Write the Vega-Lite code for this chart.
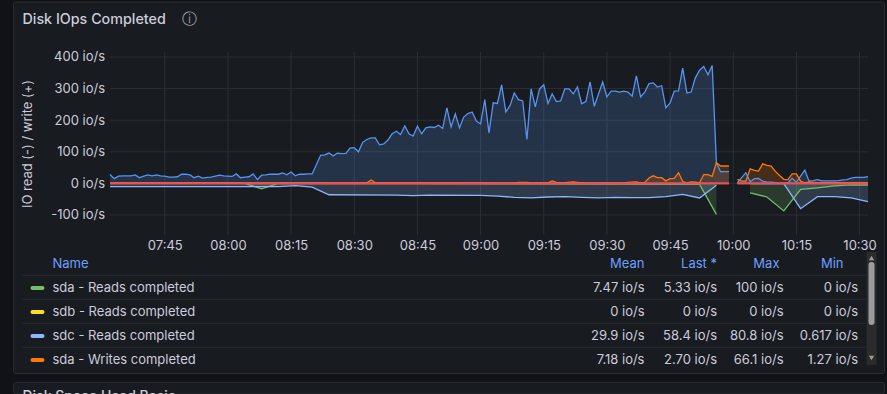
{"$schema":"https://vega.github.io/schema/vega-lite/v6.json","background":"#111217","padding":0,"config":{"font":"Inter","view":{"stroke":null},"axis":{"labelOverlap":false},"axisY":{"labelOverlap":false},"title":{"font":"Inter","fontWeight":500,"fontSize":14.3,"color":"#ccccdc"}},"spacing":17,"bounds":"flush","datasets":{"series":[
{"t":"2024-01-01T07:32Z","s":"sda - Reads completed","v":0},{"t":"2024-01-01T08:04Z","s":"sda - Reads completed","v":0},{"t":"2024-01-01T08:08Z","s":"sda - Reads completed","v":-17},{"t":"2024-01-01T08:12Z","s":"sda - Reads completed","v":0},{"t":"2024-01-01T09:52Z","s":"sda - Reads completed","v":-3},{"t":"2024-01-01T09:56Z","s":"sda - Reads completed","v":-98},{"t":"2024-01-01T09:57Z","s":"sda - Reads completed","v":null},{"t":"2024-01-01T10:04Z","s":"sda - Reads completed","v":-30},{"t":"2024-01-01T10:08Z","s":"sda - Reads completed","v":-43},{"t":"2024-01-01T10:12Z","s":"sda - Reads completed","v":-87},{"t":"2024-01-01T10:16Z","s":"sda - Reads completed","v":-19},{"t":"2024-01-01T10:20Z","s":"sda - Reads completed","v":-14},{"t":"2024-01-01T10:24Z","s":"sda - Reads completed","v":-8},{"t":"2024-01-01T10:28Z","s":"sda - Reads completed","v":-5},{"t":"2024-01-01T10:32Z","s":"sda - Reads completed","v":-5},
{"t":"2024-01-01T07:32Z","s":"sdb - Reads completed","v":0},{"t":"2024-01-01T09:59Z","s":"sdb - Reads completed","v":0},{"t":"2024-01-01T10:00Z","s":"sdb - Reads completed","v":null},{"t":"2024-01-01T10:01Z","s":"sdb - Reads completed","v":0},{"t":"2024-01-01T10:32Z","s":"sdb - Reads completed","v":0},
{"t":"2024-01-01T07:32Z","s":"sdc - Reads completed","v":-10},{"t":"2024-01-01T08:12Z","s":"sdc - Reads completed","v":-10},{"t":"2024-01-01T08:16Z","s":"sdc - Reads completed","v":-7},{"t":"2024-01-01T08:20Z","s":"sdc - Reads completed","v":-12},{"t":"2024-01-01T08:24Z","s":"sdc - Reads completed","v":-36},{"t":"2024-01-01T08:40Z","s":"sdc - Reads completed","v":-37},{"t":"2024-01-01T08:44Z","s":"sdc - Reads completed","v":-39},{"t":"2024-01-01T08:48Z","s":"sdc - Reads completed","v":-37},{"t":"2024-01-01T09:00Z","s":"sdc - Reads completed","v":-38},{"t":"2024-01-01T09:04Z","s":"sdc - Reads completed","v":-40},{"t":"2024-01-01T09:08Z","s":"sdc - Reads completed","v":-44},{"t":"2024-01-01T09:12Z","s":"sdc - Reads completed","v":-46},{"t":"2024-01-01T09:16Z","s":"sdc - Reads completed","v":-43},{"t":"2024-01-01T09:20Z","s":"sdc - Reads completed","v":-42},{"t":"2024-01-01T09:24Z","s":"sdc - Reads completed","v":-44},{"t":"2024-01-01T09:28Z","s":"sdc - Reads completed","v":-46},{"t":"2024-01-01T09:32Z","s":"sdc - Reads completed","v":-44},{"t":"2024-01-01T09:36Z","s":"sdc - Reads completed","v":-45},{"t":"2024-01-01T09:40Z","s":"sdc - Reads completed","v":-45},{"t":"2024-01-01T09:44Z","s":"sdc - Reads completed","v":-42},{"t":"2024-01-01T09:48Z","s":"sdc - Reads completed","v":-35},{"t":"2024-01-01T09:52Z","s":"sdc - Reads completed","v":-46},{"t":"2024-01-01T09:56Z","s":"sdc - Reads completed","v":-6},{"t":"2024-01-01T09:57Z","s":"sdc - Reads completed","v":null},{"t":"2024-01-01T10:04Z","s":"sdc - Reads completed","v":-1},{"t":"2024-01-01T10:12Z","s":"sdc - Reads completed","v":-1},{"t":"2024-01-01T10:16Z","s":"sdc - Reads completed","v":-80},{"t":"2024-01-01T10:20Z","s":"sdc - Reads completed","v":-42},{"t":"2024-01-01T10:24Z","s":"sdc - Reads completed","v":-42},{"t":"2024-01-01T10:28Z","s":"sdc - Reads completed","v":-46},{"t":"2024-01-01T10:32Z","s":"sdc - Reads completed","v":-58},
{"t":"2024-01-01T07:32Z","s":"sdc - Writes completed","v":28},{"t":"2024-01-01T07:33Z","s":"sdc - Writes completed","v":15},{"t":"2024-01-01T07:34Z","s":"sdc - Writes completed","v":23},{"t":"2024-01-01T07:35Z","s":"sdc - Writes completed","v":24},{"t":"2024-01-01T07:36Z","s":"sdc - Writes completed","v":24},{"t":"2024-01-01T07:37Z","s":"sdc - Writes completed","v":24},{"t":"2024-01-01T07:38Z","s":"sdc - Writes completed","v":27},{"t":"2024-01-01T07:39Z","s":"sdc - Writes completed","v":18},{"t":"2024-01-01T07:40Z","s":"sdc - Writes completed","v":23},{"t":"2024-01-01T07:41Z","s":"sdc - Writes completed","v":27},{"t":"2024-01-01T07:42Z","s":"sdc - Writes completed","v":24},{"t":"2024-01-01T07:43Z","s":"sdc - Writes completed","v":27},{"t":"2024-01-01T07:44Z","s":"sdc - Writes completed","v":24},{"t":"2024-01-01T07:45Z","s":"sdc - Writes completed","v":23},{"t":"2024-01-01T07:46Z","s":"sdc - Writes completed","v":20},{"t":"2024-01-01T07:47Z","s":"sdc - Writes completed","v":20},{"t":"2024-01-01T07:48Z","s":"sdc - Writes completed","v":21},{"t":"2024-01-01T07:49Z","s":"sdc - Writes completed","v":29},{"t":"2024-01-01T07:50Z","s":"sdc - Writes completed","v":29},{"t":"2024-01-01T07:51Z","s":"sdc - Writes completed","v":27},{"t":"2024-01-01T07:52Z","s":"sdc - Writes completed","v":18},{"t":"2024-01-01T07:53Z","s":"sdc - Writes completed","v":23},{"t":"2024-01-01T07:54Z","s":"sdc - Writes completed","v":17},{"t":"2024-01-01T07:55Z","s":"sdc - Writes completed","v":19},{"t":"2024-01-01T07:56Z","s":"sdc - Writes completed","v":20},{"t":"2024-01-01T07:57Z","s":"sdc - Writes completed","v":23},{"t":"2024-01-01T07:58Z","s":"sdc - Writes completed","v":26},{"t":"2024-01-01T07:59Z","s":"sdc - Writes completed","v":24},{"t":"2024-01-01T08:00Z","s":"sdc - Writes completed","v":23},{"t":"2024-01-01T08:01Z","s":"sdc - Writes completed","v":22},{"t":"2024-01-01T08:02Z","s":"sdc - Writes completed","v":30},{"t":"2024-01-01T08:03Z","s":"sdc - Writes completed","v":18},{"t":"2024-01-01T08:04Z","s":"sdc - Writes completed","v":20},{"t":"2024-01-01T08:05Z","s":"sdc - Writes completed","v":21},{"t":"2024-01-01T08:06Z","s":"sdc - Writes completed","v":30},{"t":"2024-01-01T08:07Z","s":"sdc - Writes completed","v":12},{"t":"2024-01-01T08:08Z","s":"sdc - Writes completed","v":26},{"t":"2024-01-01T08:09Z","s":"sdc - Writes completed","v":27},{"t":"2024-01-01T08:10Z","s":"sdc - Writes completed","v":29},{"t":"2024-01-01T08:11Z","s":"sdc - Writes completed","v":29},{"t":"2024-01-01T08:12Z","s":"sdc - Writes completed","v":29},{"t":"2024-01-01T08:13Z","s":"sdc - Writes completed","v":33},{"t":"2024-01-01T08:14Z","s":"sdc - Writes completed","v":27},{"t":"2024-01-01T08:15Z","s":"sdc - Writes completed","v":36},{"t":"2024-01-01T08:16Z","s":"sdc - Writes completed","v":24},{"t":"2024-01-01T08:17Z","s":"sdc - Writes completed","v":29},{"t":"2024-01-01T08:18Z","s":"sdc - Writes completed","v":29},{"t":"2024-01-01T08:19Z","s":"sdc - Writes completed","v":30},{"t":"2024-01-01T08:20Z","s":"sdc - Writes completed","v":30},{"t":"2024-01-01T08:21Z","s":"sdc - Writes completed","v":59},{"t":"2024-01-01T08:22Z","s":"sdc - Writes completed","v":89},{"t":"2024-01-01T08:23Z","s":"sdc - Writes completed","v":90},{"t":"2024-01-01T08:24Z","s":"sdc - Writes completed","v":96},{"t":"2024-01-01T08:25Z","s":"sdc - Writes completed","v":87},{"t":"2024-01-01T08:26Z","s":"sdc - Writes completed","v":96},{"t":"2024-01-01T08:27Z","s":"sdc - Writes completed","v":94},{"t":"2024-01-01T08:28Z","s":"sdc - Writes completed","v":95},{"t":"2024-01-01T08:29Z","s":"sdc - Writes completed","v":112},{"t":"2024-01-01T08:30Z","s":"sdc - Writes completed","v":113},{"t":"2024-01-01T08:31Z","s":"sdc - Writes completed","v":100},{"t":"2024-01-01T08:32Z","s":"sdc - Writes completed","v":130},{"t":"2024-01-01T08:33Z","s":"sdc - Writes completed","v":139},{"t":"2024-01-01T08:34Z","s":"sdc - Writes completed","v":144},{"t":"2024-01-01T08:35Z","s":"sdc - Writes completed","v":144},{"t":"2024-01-01T08:36Z","s":"sdc - Writes completed","v":122},{"t":"2024-01-01T08:37Z","s":"sdc - Writes completed","v":125},{"t":"2024-01-01T08:38Z","s":"sdc - Writes completed","v":137},{"t":"2024-01-01T08:39Z","s":"sdc - Writes completed","v":157},{"t":"2024-01-01T08:40Z","s":"sdc - Writes completed","v":165},{"t":"2024-01-01T08:41Z","s":"sdc - Writes completed","v":155},{"t":"2024-01-01T08:42Z","s":"sdc - Writes completed","v":182},{"t":"2024-01-01T08:43Z","s":"sdc - Writes completed","v":157},{"t":"2024-01-01T08:44Z","s":"sdc - Writes completed","v":150},{"t":"2024-01-01T08:45Z","s":"sdc - Writes completed","v":181},{"t":"2024-01-01T08:46Z","s":"sdc - Writes completed","v":157},{"t":"2024-01-01T08:47Z","s":"sdc - Writes completed","v":176},{"t":"2024-01-01T08:48Z","s":"sdc - Writes completed","v":179},{"t":"2024-01-01T08:49Z","s":"sdc - Writes completed","v":177},{"t":"2024-01-01T08:50Z","s":"sdc - Writes completed","v":184},{"t":"2024-01-01T08:51Z","s":"sdc - Writes completed","v":174},{"t":"2024-01-01T08:52Z","s":"sdc - Writes completed","v":239},{"t":"2024-01-01T08:53Z","s":"sdc - Writes completed","v":179},{"t":"2024-01-01T08:54Z","s":"sdc - Writes completed","v":220},{"t":"2024-01-01T08:55Z","s":"sdc - Writes completed","v":176},{"t":"2024-01-01T08:56Z","s":"sdc - Writes completed","v":210},{"t":"2024-01-01T08:57Z","s":"sdc - Writes completed","v":221},{"t":"2024-01-01T08:58Z","s":"sdc - Writes completed","v":226},{"t":"2024-01-01T08:59Z","s":"sdc - Writes completed","v":197},{"t":"2024-01-01T09:00Z","s":"sdc - Writes completed","v":188},{"t":"2024-01-01T09:01Z","s":"sdc - Writes completed","v":265},{"t":"2024-01-01T09:02Z","s":"sdc - Writes completed","v":160},{"t":"2024-01-01T09:03Z","s":"sdc - Writes completed","v":255},{"t":"2024-01-01T09:04Z","s":"sdc - Writes completed","v":253},{"t":"2024-01-01T09:05Z","s":"sdc - Writes completed","v":312},{"t":"2024-01-01T09:06Z","s":"sdc - Writes completed","v":226},{"t":"2024-01-01T09:07Z","s":"sdc - Writes completed","v":247},{"t":"2024-01-01T09:08Z","s":"sdc - Writes completed","v":286},{"t":"2024-01-01T09:09Z","s":"sdc - Writes completed","v":265},{"t":"2024-01-01T09:10Z","s":"sdc - Writes completed","v":261},{"t":"2024-01-01T09:11Z","s":"sdc - Writes completed","v":139},{"t":"2024-01-01T09:12Z","s":"sdc - Writes completed","v":299},{"t":"2024-01-01T09:13Z","s":"sdc - Writes completed","v":242},{"t":"2024-01-01T09:14Z","s":"sdc - Writes completed","v":299},{"t":"2024-01-01T09:15Z","s":"sdc - Writes completed","v":312},{"t":"2024-01-01T09:16Z","s":"sdc - Writes completed","v":253},{"t":"2024-01-01T09:17Z","s":"sdc - Writes completed","v":283},{"t":"2024-01-01T09:18Z","s":"sdc - Writes completed","v":259},{"t":"2024-01-01T09:19Z","s":"sdc - Writes completed","v":261},{"t":"2024-01-01T09:20Z","s":"sdc - Writes completed","v":299},{"t":"2024-01-01T09:21Z","s":"sdc - Writes completed","v":299},{"t":"2024-01-01T09:22Z","s":"sdc - Writes completed","v":283},{"t":"2024-01-01T09:23Z","s":"sdc - Writes completed","v":305},{"t":"2024-01-01T09:24Z","s":"sdc - Writes completed","v":252},{"t":"2024-01-01T09:25Z","s":"sdc - Writes completed","v":259},{"t":"2024-01-01T09:26Z","s":"sdc - Writes completed","v":321},{"t":"2024-01-01T09:27Z","s":"sdc - Writes completed","v":244},{"t":"2024-01-01T09:28Z","s":"sdc - Writes completed","v":283},{"t":"2024-01-01T09:29Z","s":"sdc - Writes completed","v":321},{"t":"2024-01-01T09:30Z","s":"sdc - Writes completed","v":274},{"t":"2024-01-01T09:31Z","s":"sdc - Writes completed","v":292},{"t":"2024-01-01T09:32Z","s":"sdc - Writes completed","v":292},{"t":"2024-01-01T09:33Z","s":"sdc - Writes completed","v":289},{"t":"2024-01-01T09:34Z","s":"sdc - Writes completed","v":292},{"t":"2024-01-01T09:35Z","s":"sdc - Writes completed","v":289},{"t":"2024-01-01T09:36Z","s":"sdc - Writes completed","v":276},{"t":"2024-01-01T09:37Z","s":"sdc - Writes completed","v":340},{"t":"2024-01-01T09:38Z","s":"sdc - Writes completed","v":274},{"t":"2024-01-01T09:39Z","s":"sdc - Writes completed","v":289},{"t":"2024-01-01T09:40Z","s":"sdc - Writes completed","v":316},{"t":"2024-01-01T09:41Z","s":"sdc - Writes completed","v":318},{"t":"2024-01-01T09:42Z","s":"sdc - Writes completed","v":305},{"t":"2024-01-01T09:43Z","s":"sdc - Writes completed","v":309},{"t":"2024-01-01T09:44Z","s":"sdc - Writes completed","v":239},{"t":"2024-01-01T09:45Z","s":"sdc - Writes completed","v":255},{"t":"2024-01-01T09:46Z","s":"sdc - Writes completed","v":292},{"t":"2024-01-01T09:47Z","s":"sdc - Writes completed","v":293},{"t":"2024-01-01T09:48Z","s":"sdc - Writes completed","v":365},{"t":"2024-01-01T09:49Z","s":"sdc - Writes completed","v":286},{"t":"2024-01-01T09:50Z","s":"sdc - Writes completed","v":289},{"t":"2024-01-01T09:51Z","s":"sdc - Writes completed","v":334},{"t":"2024-01-01T09:52Z","s":"sdc - Writes completed","v":358},{"t":"2024-01-01T09:53Z","s":"sdc - Writes completed","v":370},{"t":"2024-01-01T09:54Z","s":"sdc - Writes completed","v":344},{"t":"2024-01-01T09:55Z","s":"sdc - Writes completed","v":373},{"t":"2024-01-01T09:56Z","s":"sdc - Writes completed","v":65},{"t":"2024-01-01T09:57Z","s":"sdc - Writes completed","v":37},{"t":"2024-01-01T09:58Z","s":"sdc - Writes completed","v":37},{"t":"2024-01-01T09:59Z","s":"sdc - Writes completed","v":37},{"t":"2024-01-01T10:00Z","s":"sdc - Writes completed","v":null},{"t":"2024-01-01T10:01Z","s":"sdc - Writes completed","v":2},{"t":"2024-01-01T10:02Z","s":"sdc - Writes completed","v":18},{"t":"2024-01-01T10:03Z","s":"sdc - Writes completed","v":34},{"t":"2024-01-01T10:04Z","s":"sdc - Writes completed","v":5},{"t":"2024-01-01T10:05Z","s":"sdc - Writes completed","v":15},{"t":"2024-01-01T10:06Z","s":"sdc - Writes completed","v":16},{"t":"2024-01-01T10:07Z","s":"sdc - Writes completed","v":7},{"t":"2024-01-01T10:08Z","s":"sdc - Writes completed","v":4},{"t":"2024-01-01T10:09Z","s":"sdc - Writes completed","v":4},{"t":"2024-01-01T10:10Z","s":"sdc - Writes completed","v":2},{"t":"2024-01-01T10:11Z","s":"sdc - Writes completed","v":1},{"t":"2024-01-01T10:12Z","s":"sdc - Writes completed","v":1},{"t":"2024-01-01T10:13Z","s":"sdc - Writes completed","v":2},{"t":"2024-01-01T10:14Z","s":"sdc - Writes completed","v":16},{"t":"2024-01-01T10:15Z","s":"sdc - Writes completed","v":4},{"t":"2024-01-01T10:16Z","s":"sdc - Writes completed","v":23},{"t":"2024-01-01T10:17Z","s":"sdc - Writes completed","v":42},{"t":"2024-01-01T10:18Z","s":"sdc - Writes completed","v":7},{"t":"2024-01-01T10:19Z","s":"sdc - Writes completed","v":9},{"t":"2024-01-01T10:20Z","s":"sdc - Writes completed","v":12},{"t":"2024-01-01T10:21Z","s":"sdc - Writes completed","v":8},{"t":"2024-01-01T10:22Z","s":"sdc - Writes completed","v":8},{"t":"2024-01-01T10:23Z","s":"sdc - Writes completed","v":8},{"t":"2024-01-01T10:24Z","s":"sdc - Writes completed","v":8},{"t":"2024-01-01T10:25Z","s":"sdc - Writes completed","v":9},{"t":"2024-01-01T10:26Z","s":"sdc - Writes completed","v":11},{"t":"2024-01-01T10:27Z","s":"sdc - Writes completed","v":12},{"t":"2024-01-01T10:28Z","s":"sdc - Writes completed","v":17},{"t":"2024-01-01T10:29Z","s":"sdc - Writes completed","v":19},{"t":"2024-01-01T10:30Z","s":"sdc - Writes completed","v":19},{"t":"2024-01-01T10:31Z","s":"sdc - Writes completed","v":19},{"t":"2024-01-01T10:32Z","s":"sdc - Writes completed","v":21},
{"t":"2024-01-01T07:32Z","s":"sda - Writes completed","v":1.5},{"t":"2024-01-01T08:32Z","s":"sda - Writes completed","v":1.5},{"t":"2024-01-01T08:33Z","s":"sda - Writes completed","v":2},{"t":"2024-01-01T08:34Z","s":"sda - Writes completed","v":11},{"t":"2024-01-01T08:35Z","s":"sda - Writes completed","v":2},{"t":"2024-01-01T09:08Z","s":"sda - Writes completed","v":1.5},{"t":"2024-01-01T09:09Z","s":"sda - Writes completed","v":3},{"t":"2024-01-01T09:11Z","s":"sda - Writes completed","v":3},{"t":"2024-01-01T09:12Z","s":"sda - Writes completed","v":1.5},{"t":"2024-01-01T09:16Z","s":"sda - Writes completed","v":2},{"t":"2024-01-01T09:17Z","s":"sda - Writes completed","v":8},{"t":"2024-01-01T09:18Z","s":"sda - Writes completed","v":3},{"t":"2024-01-01T09:20Z","s":"sda - Writes completed","v":2},{"t":"2024-01-01T09:22Z","s":"sda - Writes completed","v":5},{"t":"2024-01-01T09:24Z","s":"sda - Writes completed","v":1.5},{"t":"2024-01-01T09:34Z","s":"sda - Writes completed","v":1.5},{"t":"2024-01-01T09:35Z","s":"sda - Writes completed","v":3},{"t":"2024-01-01T09:36Z","s":"sda - Writes completed","v":4},{"t":"2024-01-01T09:37Z","s":"sda - Writes completed","v":5},{"t":"2024-01-01T09:38Z","s":"sda - Writes completed","v":2},{"t":"2024-01-01T09:39Z","s":"sda - Writes completed","v":3},{"t":"2024-01-01T09:40Z","s":"sda - Writes completed","v":17},{"t":"2024-01-01T09:41Z","s":"sda - Writes completed","v":24},{"t":"2024-01-01T09:42Z","s":"sda - Writes completed","v":18},{"t":"2024-01-01T09:43Z","s":"sda - Writes completed","v":18},{"t":"2024-01-01T09:44Z","s":"sda - Writes completed","v":8},{"t":"2024-01-01T09:45Z","s":"sda - Writes completed","v":15},{"t":"2024-01-01T09:46Z","s":"sda - Writes completed","v":16},{"t":"2024-01-01T09:47Z","s":"sda - Writes completed","v":34},{"t":"2024-01-01T09:48Z","s":"sda - Writes completed","v":6},{"t":"2024-01-01T09:49Z","s":"sda - Writes completed","v":2},{"t":"2024-01-01T09:50Z","s":"sda - Writes completed","v":5},{"t":"2024-01-01T09:51Z","s":"sda - Writes completed","v":4},{"t":"2024-01-01T09:52Z","s":"sda - Writes completed","v":2},{"t":"2024-01-01T09:53Z","s":"sda - Writes completed","v":28},{"t":"2024-01-01T09:54Z","s":"sda - Writes completed","v":28},{"t":"2024-01-01T09:55Z","s":"sda - Writes completed","v":22},{"t":"2024-01-01T09:56Z","s":"sda - Writes completed","v":66},{"t":"2024-01-01T09:57Z","s":"sda - Writes completed","v":55},{"t":"2024-01-01T09:58Z","s":"sda - Writes completed","v":55},{"t":"2024-01-01T09:59Z","s":"sda - Writes completed","v":55},{"t":"2024-01-01T10:00Z","s":"sda - Writes completed","v":null},{"t":"2024-01-01T10:01Z","s":"sda - Writes completed","v":13},{"t":"2024-01-01T10:02Z","s":"sda - Writes completed","v":7},{"t":"2024-01-01T10:03Z","s":"sda - Writes completed","v":7},{"t":"2024-01-01T10:04Z","s":"sda - Writes completed","v":46},{"t":"2024-01-01T10:05Z","s":"sda - Writes completed","v":41},{"t":"2024-01-01T10:06Z","s":"sda - Writes completed","v":39},{"t":"2024-01-01T10:07Z","s":"sda - Writes completed","v":62},{"t":"2024-01-01T10:08Z","s":"sda - Writes completed","v":57},{"t":"2024-01-01T10:09Z","s":"sda - Writes completed","v":55},{"t":"2024-01-01T10:10Z","s":"sda - Writes completed","v":38},{"t":"2024-01-01T10:11Z","s":"sda - Writes completed","v":25},{"t":"2024-01-01T10:12Z","s":"sda - Writes completed","v":13},{"t":"2024-01-01T10:13Z","s":"sda - Writes completed","v":12},{"t":"2024-01-01T10:14Z","s":"sda - Writes completed","v":30},{"t":"2024-01-01T10:15Z","s":"sda - Writes completed","v":30},{"t":"2024-01-01T10:16Z","s":"sda - Writes completed","v":7},{"t":"2024-01-01T10:17Z","s":"sda - Writes completed","v":2},{"t":"2024-01-01T10:18Z","s":"sda - Writes completed","v":4},{"t":"2024-01-01T10:20Z","s":"sda - Writes completed","v":2},{"t":"2024-01-01T10:32Z","s":"sda - Writes completed","v":2.7},
{"t":"2024-01-01T07:32Z","s":"sdb - Writes completed","v":0},{"t":"2024-01-01T09:59Z","s":"sdb - Writes completed","v":0},{"t":"2024-01-01T10:00Z","s":"sdb - Writes completed","v":null},{"t":"2024-01-01T10:01Z","s":"sdb - Writes completed","v":0},{"t":"2024-01-01T10:32Z","s":"sdb - Writes completed","v":0}
],"table":[{"name":"Name","mean":"Mean","last":"Last *","max":"Max","min":"Min"},{"name":"sda - Reads completed","mean":"7.47 io/s","last":"5.33 io/s","max":"100 io/s","min":"0 io/s"},{"name":"sdb - Reads completed","mean":"0 io/s","last":"0 io/s","max":"0 io/s","min":"0 io/s"},{"name":"sdc - Reads completed","mean":"29.9 io/s","last":"58.4 io/s","max":"80.8 io/s","min":"0.617 io/s"},{"name":"sda - Writes completed","mean":"7.18 io/s","last":"2.70 io/s","max":"66.1 io/s","min":"1.27 io/s"}]},
"vconcat":[{"width":758,"height":183,"title":{"text":"Disk IOps Completed","anchor":"start","frame":"group","dx":-87.5,"offset":-27},
"layer":[
{"data":{"values":[{}]},"mark":{"type":"rect","fill":"#111217","clip":false},"encoding":{"x":{"datum":{"year":2024,"month":1,"date":1,"hours":7,"minutes":6,"seconds":0,"utc":true},"type":"temporal"},"x2":{"datum":{"year":2024,"month":1,"date":1,"hours":10,"minutes":36,"seconds":38,"utc":true}},"y":{"datum":580.3,"type":"quantitative"},"y2":{"datum":-666.4}}},
{"data":{"values":[{}]},"mark":{"type":"rect","fill":"#181b1f","stroke":"#2a2c31","strokeWidth":1,"cornerRadius":2,"clip":false},"encoding":{"x":{"datum":{"year":2024,"month":1,"date":1,"hours":7,"minutes":9,"seconds":5,"utc":true},"type":"temporal"},"x2":{"datum":{"year":2024,"month":1,"date":1,"hours":10,"minutes":35,"seconds":55,"utc":true}},"y":{"datum":574,"type":"quantitative"},"y2":{"datum":-601.6}}},
{"data":{"values":[{}]},"mark":{"type":"rect","fill":"#181b1f","stroke":"#2a2c31","strokeWidth":1,"cornerRadius":2,"clip":false},"encoding":{"x":{"datum":{"year":2024,"month":1,"date":1,"hours":7,"minutes":9,"seconds":5,"utc":true},"type":"temporal"},"x2":{"datum":{"year":2024,"month":1,"date":1,"hours":10,"minutes":35,"seconds":55,"utc":true}},"y":{"datum":-630,"type":"quantitative"},"y2":{"datum":-666.4}}},
{"data":{"values":[{"v":-100},{"v":0},{"v":100},{"v":200},{"v":300},{"v":400}]},"mark":{"type":"rule","stroke":"#2c2f34","strokeWidth":1},"encoding":{"y":{"field":"v","type":"quantitative"}}},
{"data":{"values":[{"t":"2024-01-01T07:45Z"},{"t":"2024-01-01T08:00Z"},{"t":"2024-01-01T08:15Z"},{"t":"2024-01-01T08:30Z"},{"t":"2024-01-01T08:45Z"},{"t":"2024-01-01T09:00Z"},{"t":"2024-01-01T09:15Z"},{"t":"2024-01-01T09:30Z"},{"t":"2024-01-01T09:45Z"},{"t":"2024-01-01T10:00Z"},{"t":"2024-01-01T10:15Z"},{"t":"2024-01-01T10:30Z"}]},"mark":{"type":"rule","stroke":"#2c2f34","strokeWidth":1},"encoding":{"x":{"field":"t","type":"temporal","scale":{"type":"utc","domain":[{"year":2024,"month":1,"date":1,"hours":7,"minutes":32,"utc":true},{"year":2024,"month":1,"date":1,"hours":10,"minutes":32,"utc":true}]},"axis":{"title":null,"format":"%H:%M","values":[{"year":2024,"month":1,"date":1,"hours":7,"minutes":45,"utc":true},{"year":2024,"month":1,"date":1,"hours":8,"minutes":0,"utc":true},{"year":2024,"month":1,"date":1,"hours":8,"minutes":15,"utc":true},{"year":2024,"month":1,"date":1,"hours":8,"minutes":30,"utc":true},{"year":2024,"month":1,"date":1,"hours":8,"minutes":45,"utc":true},{"year":2024,"month":1,"date":1,"hours":9,"minutes":0,"utc":true},{"year":2024,"month":1,"date":1,"hours":9,"minutes":15,"utc":true},{"year":2024,"month":1,"date":1,"hours":9,"minutes":30,"utc":true},{"year":2024,"month":1,"date":1,"hours":9,"minutes":45,"utc":true},{"year":2024,"month":1,"date":1,"hours":10,"minutes":0,"utc":true},{"year":2024,"month":1,"date":1,"hours":10,"minutes":15,"utc":true},{"year":2024,"month":1,"date":1,"hours":10,"minutes":30,"utc":true}],"grid":false,"domain":false,"ticks":false,"labelColor":"#ccccdc","labelFontSize":13,"labelPadding":4,"labelFlush":false,"labelOverlap":false,"zindex":1}}}},
{"data":{"values":[{"v":-290.8},{"v":-366.8},{"v":-442.7},{"v":-518.7}]},"mark":{"type":"rule","stroke":"#2c2f34","strokeWidth":1,"clip":false},"encoding":{"y":{"field":"v","type":"quantitative"},"x":{"datum":{"year":2024,"month":1,"date":1,"hours":7,"minutes":11,"seconds":13,"utc":true},"type":"temporal"},"x2":{"datum":{"year":2024,"month":1,"date":1,"hours":10,"minutes":31,"seconds":24,"utc":true}}}},
{"data":{"values":[{}]},"mark":{"type":"rule","stroke":"#2b2b2b","strokeWidth":10,"clip":false},"encoding":{"x":{"datum":{"year":2024,"month":1,"date":1,"hours":10,"minutes":32,"seconds":50,"utc":true},"type":"temporal"},"y":{"datum":-217,"type":"quantitative"},"y2":{"datum":-574.7}}},
{"data":{"values":[{}]},"mark":{"type":"rule","stroke":"#9c9c9c","strokeWidth":6,"strokeCap":"round","clip":false},"encoding":{"x":{"datum":{"year":2024,"month":1,"date":1,"hours":10,"minutes":32,"seconds":50,"utc":true},"type":"temporal"},"y":{"datum":-258.2,"type":"quantitative"},"y2":{"datum":-438.6}}},
{"data":{"values":[{}]},"mark":{"type":"point","shape":"triangle-up","filled":true,"size":28,"color":"#9c9c9c","opacity":1,"clip":false},"encoding":{"x":{"datum":{"year":2024,"month":1,"date":1,"hours":10,"minutes":32,"seconds":50,"utc":true},"type":"temporal"},"y":{"datum":-236,"type":"quantitative"}}},
{"data":{"values":[{}]},"mark":{"type":"point","shape":"triangle-down","filled":true,"size":28,"color":"#9c9c9c","opacity":1,"clip":false},"encoding":{"x":{"datum":{"year":2024,"month":1,"date":1,"hours":10,"minutes":32,"seconds":50,"utc":true},"type":"temporal"},"y":{"datum":-552.6,"type":"quantitative"}}},
{"data":{"name":"series"},"mark":{"type":"area","fillOpacity":0.2},"encoding":{"x":{"field":"t","type":"temporal"},"y":{"field":"v","type":"quantitative","stack":null,"scale":{"domain":[-163.3,415.8],"nice":false,"zero":false},"axis":{"title":"IO read (-) / write (+)","titleColor":"#ccccdc","titleFontSize":13,"titleFontWeight":400,"titleX":-75.5,"titleY":91.5,"values":[-100,0,100,200,300,400],"tickCount":12,"labelExpr":"datum.value + ' io/s'","grid":false,"domain":false,"ticks":false,"labelColor":"#ccccdc","labelFontSize":13,"labelPadding":5.5,"labelOverlap":false,"zindex":1}},"color":{"field":"s","type":"nominal","legend":null,"sort":null,"scale":{"domain":["sda - Reads completed","sdb - Reads completed","sdc - Reads completed","sdc - Writes completed","sda - Writes completed","sdb - Writes completed"],"range":["#73bf69","#fade2a","#8ab8ff","#5794f2","#ff780a","#f2495c"]}}}},
{"data":{"name":"series"},"mark":{"type":"line"},"encoding":{"x":{"field":"t","type":"temporal"},"y":{"field":"v","type":"quantitative","stack":null},"color":{"field":"s","type":"nominal","legend":null,"sort":null},"strokeWidth":{"condition":{"test":"datum.s === 'sdb - Writes completed'","value":2},"value":1.3}}},
{"data":{"values":[{}]},"mark":{"type":"text","text":"ⓘ","font":"DejaVu Sans","fontSize":15,"color":"#a0a1a6","clip":false},"encoding":{"x":{"datum":{"year":2024,"month":1,"date":1,"hours":7,"minutes":50,"seconds":53,"utc":true},"type":"temporal"},"y":{"datum":520,"type":"quantitative"}}},
{"data":{"values":[{}]},"mark":{"type":"text","text":"Disk Space Used Basic","fontSize":14,"fontWeight":500,"color":"#ccccdc","align":"left","clip":false},"encoding":{"x":{"datum":{"year":2024,"month":1,"date":1,"hours":7,"minutes":11,"seconds":13,"utc":true},"type":"temporal"},"y":{"datum":-677,"type":"quantitative"}}}
]},
{"width":758,"height":120,"data":{"name":"table"},
"layer":[
{"transform":[{"filter":"datum.name !== 'Name'"}],"mark":{"type":"rule","strokeWidth":4,"strokeCap":"round","clip":false},"encoding":{"y":{"field":"name","type":"nominal","sort":null,"axis":null,"scale":{"type":"band","paddingInner":0,"paddingOuter":0,"domain":["Name","sda - Reads completed","sdb - Reads completed","sdc - Reads completed","sda - Writes completed"]}},"x":{"datum":-77.5,"type":"quantitative","scale":{"domain":[0,758],"nice":false,"zero":false},"axis":null},"x2":{"datum":-67.5},"color":{"field":"name","type":"nominal","legend":null,"scale":{"domain":["sda - Reads completed","sdb - Reads completed","sdc - Reads completed","sda - Writes completed"],"range":["#73bf69","#fade2a","#8ab8ff","#ff780a"]}}}},
{"mark":{"type":"text","align":"left","fontSize":13,"clip":false},"encoding":{"y":{"field":"name","type":"nominal"},"x":{"datum":-57.5,"type":"quantitative"},"text":{"field":"name"},"color":{"condition":{"test":"datum.name === 'Name'","value":"#6e9fff"},"value":"#ccccdc"}}},
{"mark":{"type":"text","align":"right","fontSize":13},"encoding":{"y":{"field":"name","type":"nominal"},"x":{"datum":534.5,"type":"quantitative"},"text":{"field":"mean"},"color":{"condition":{"test":"datum.name === 'Name'","value":"#6e9fff"},"value":"#ccccdc"}}},
{"mark":{"type":"text","align":"right","fontSize":13},"encoding":{"y":{"field":"name","type":"nominal"},"x":{"datum":607,"type":"quantitative"},"text":{"field":"last"},"color":{"condition":{"test":"datum.name === 'Name'","value":"#6e9fff"},"value":"#ccccdc"}}},
{"mark":{"type":"text","align":"right","fontSize":13,"dx":{"expr":"datum.name === 'Name' ? -4 : 0"}},"encoding":{"y":{"field":"name","type":"nominal"},"x":{"datum":673.5,"type":"quantitative"},"text":{"field":"max"},"color":{"condition":{"test":"datum.name === 'Name'","value":"#6e9fff"},"value":"#ccccdc"}}},
{"mark":{"type":"text","align":"right","fontSize":13,"dx":{"expr":"datum.name === 'Name' ? -14.5 : 0"}},"encoding":{"y":{"field":"name","type":"nominal"},"x":{"datum":748,"type":"quantitative"},"text":{"field":"min"},"color":{"condition":{"test":"datum.name === 'Name'","value":"#6e9fff"},"value":"#ccccdc"}}}
],"resolve":{"scale":{"color":"independent"}}}
]}
